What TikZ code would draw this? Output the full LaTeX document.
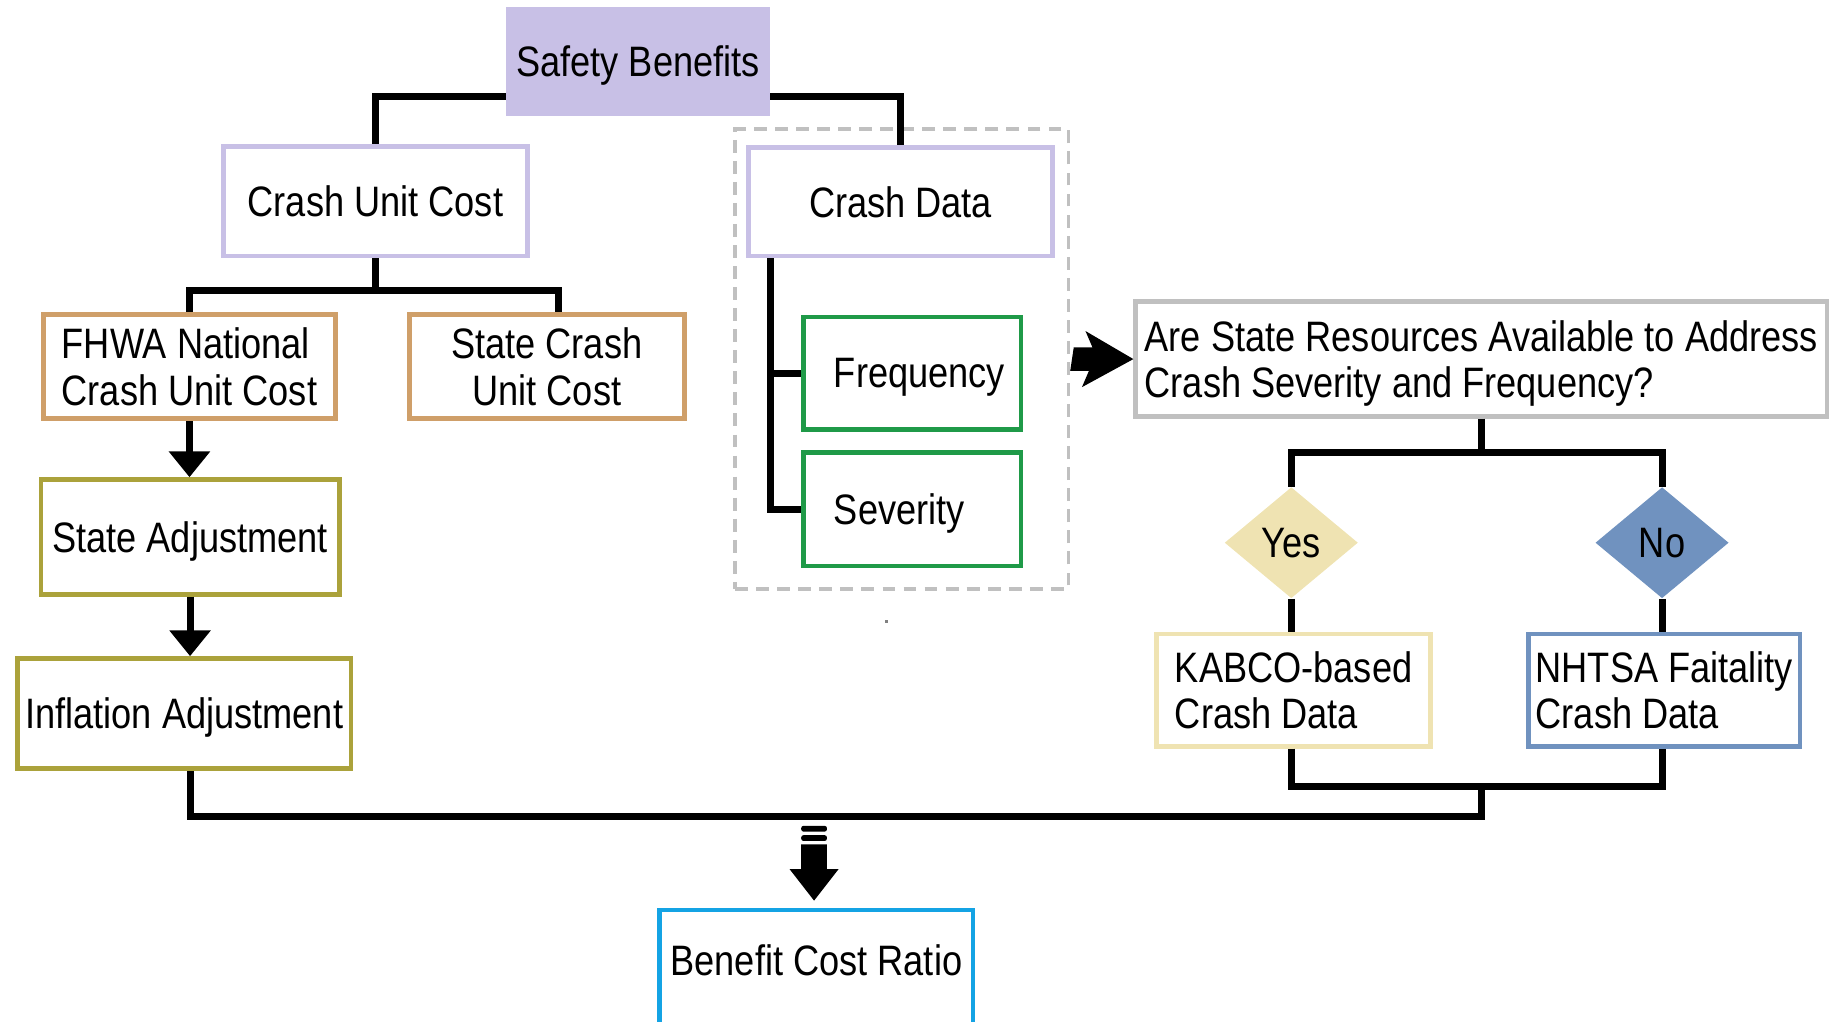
\documentclass[tikz,border=0pt]{standalone}
\usepackage{fontspec}
\setmainfont{Liberation Sans}[FakeStretch=0.85]
\usetikzlibrary{arrows.meta,shapes.geometric,calc}

\definecolor{lav}{HTML}{C8C0E6}
\definecolor{tan}{HTML}{CF9F69}
\definecolor{olive}{HTML}{ABA23B}
\definecolor{grn}{HTML}{1F9A48}
\definecolor{lgray}{HTML}{C0C0C0}
\definecolor{pyel}{HTML}{EFE3B2}
\definecolor{sblue}{HTML}{7092BF}
\definecolor{cyanb}{HTML}{14A3E4}

\tikzset{
  txt/.style={font=\fontsize{18.2}{20}\selectfont, text depth=0pt},
  box/.style={txt, draw, line width=2pt, fill=white, inner sep=0pt},
  conn/.style={line width=3pt, draw=black},
  arr/.style={conn, -{Triangle[width=17pt,length=11pt]}},
  choice/.style={txt, diamond, inner sep=0pt, minimum width=57pt, minimum height=47.5pt},
  frame/.style={draw=lgray, line width=1.5pt, dash pattern=on 5.5pt off 3.5pt,
    minimum width=142.5pt, minimum height=196.5pt, inner sep=0pt}
}

\begin{document}
\begin{tikzpicture}[x=0.5pt, y=-0.5pt]
\useasboundingbox (0,0) rectangle (1568,873);

% grouping frame around the crash data branch
\node[frame] (frame) at (771,307) {};

% top level
\node[txt, fill=lav, inner sep=0pt, minimum width=112.5pt, minimum height=46.5pt]
  (sb) at (545.5,52.5) {Safety Benefits};

% unit cost branch
\node[box, draw=lav, minimum width=130pt, minimum height=47pt] (cuc) at (321,172) {Crash Unit Cost};
\node[box, draw=tan, minimum width=125pt, minimum height=44.5pt, align=left] (fhwa) at (162,313.5)
  {FHWA National\\Crash Unit Cost};
\node[box, draw=tan, minimum width=117.5pt, minimum height=44.5pt, align=center] (scuc) at (467.5,313.5)
  {State Crash\\Unit Cost};
\node[box, draw=olive, minimum width=127.5pt, minimum height=49pt] (sa) at (162.5,459) {State Adjustment};
\node[box, draw=olive, minimum width=142.5pt, minimum height=47pt] (ia) at (157.5,610) {Inflation Adjustment};

% crash data branch
\node[box, draw=lav, minimum width=130pt, minimum height=46.5pt] (cd) at (770,172.5) {Crash Data};
\node[box, draw=grn, minimum width=93pt, minimum height=48pt] (freq) at (780,319)
  {\makebox[67pt][l]{Frequency}};
\node[box, draw=grn, minimum width=93pt, minimum height=48.5pt] (sev) at (780,435.5)
  {\makebox[67pt][l]{Severity}};

% decision
\node[box, draw=lgray, minimum width=295.5pt, minimum height=49pt, align=left] (q) at (1266.5,307)
  {Are State Resources Available to Address\\Crash Severity and Frequency?};
\node[choice, fill=pyel] (yes) at (1104,464) {Yes};
\node[choice, fill=sblue] (no) at (1421,464) {No};
\node[box, draw=pyel, minimum width=117pt, minimum height=48pt, align=left] (kabco) at (1106,590)
  {KABCO-based\\Crash Data};
\node[box, draw=sblue, minimum width=116pt, minimum height=48pt, align=left] (nhtsa) at (1423,590)
  {NHTSA Faitality\\Crash Data};

% result
\node[box, draw=cyanb, minimum width=134pt, minimum height=52pt] (bcr) at (698,830)
  {\raisebox{4.5pt}[\height][\depth]{Benefit Cost Ratio}};

% connectors: safety benefits to its two branches
\draw[conn] ([yshift=8.5pt]sb.south west) -| (cuc.north);
\draw[conn] ([yshift=8.5pt]sb.south east) -| (cd.north);

% unit cost tree
\draw[conn] (cuc.south) -- ++(0,27) -| (fhwa.north);
\draw[conn] (cuc.south) ++(0,27) -| ([xshift=5pt]scuc.north);
\draw[arr] (fhwa.south) -- (fhwa.south |- sa.north);
\draw[arr] (sa.south) -- (sa.south |- ia.north);

% crash data tree
\draw[conn] ([xshift=10.5pt]cd.south west) |- (sev.west);
\draw[conn] ([xshift=10.5pt]cd.south west |- freq.west) -- (freq.west);

% decision tree
\draw[conn] (q.south) -- ++(0,29) -| (yes.north);
\draw[conn] (q.south) ++(0,29) -| (no.north);
\draw[conn] (yes.south) -- (yes.south |- kabco.north);
\draw[conn] (no.south) -- (no.south |- nhtsa.north);
\draw[conn] (yes.south |- kabco.south) -- ++(0,32) -| (no.south |- nhtsa.south);

% collecting bus
\coordinate (merge) at ($(q.south |- kabco.south)+(0,32)$);
\coordinate (busL) at ($(sa.south |- merge)+(0,26)$);
\draw[conn] (merge) |- (busL) -- (sa.south |- ia.south);

% fat arrow from the crash data group to the decision
\fill (frame.east) ++(3,-10) -- ++(16,0) -- ++(-6,-14) -- (q.west)
  -- ++(-44,24) -- ++(6,-14) -- ++(-16,0) -- cycle;

% striped fat arrow down to the benefit cost ratio
\coordinate (tipc) at ($(bcr.north)+(-2,-6)$);
\fill (tipc) -- ++(-21,-27) -- ++(10,0) -- ++(0,-21) -- ++(22,0) -- ++(0,21) -- ++(10,0) -- cycle;
\fill[rounded corners=1pt] ($(tipc)+(-11,-56)$) rectangle ($(tipc)+(11,-51)$);
\fill[rounded corners=1pt] ($(tipc)+(-11,-64)$) rectangle ($(tipc)+(11,-59)$);

% small speck below the frame
\fill[gray] (757,530) rectangle (759,533);
\end{tikzpicture}
\end{document}
